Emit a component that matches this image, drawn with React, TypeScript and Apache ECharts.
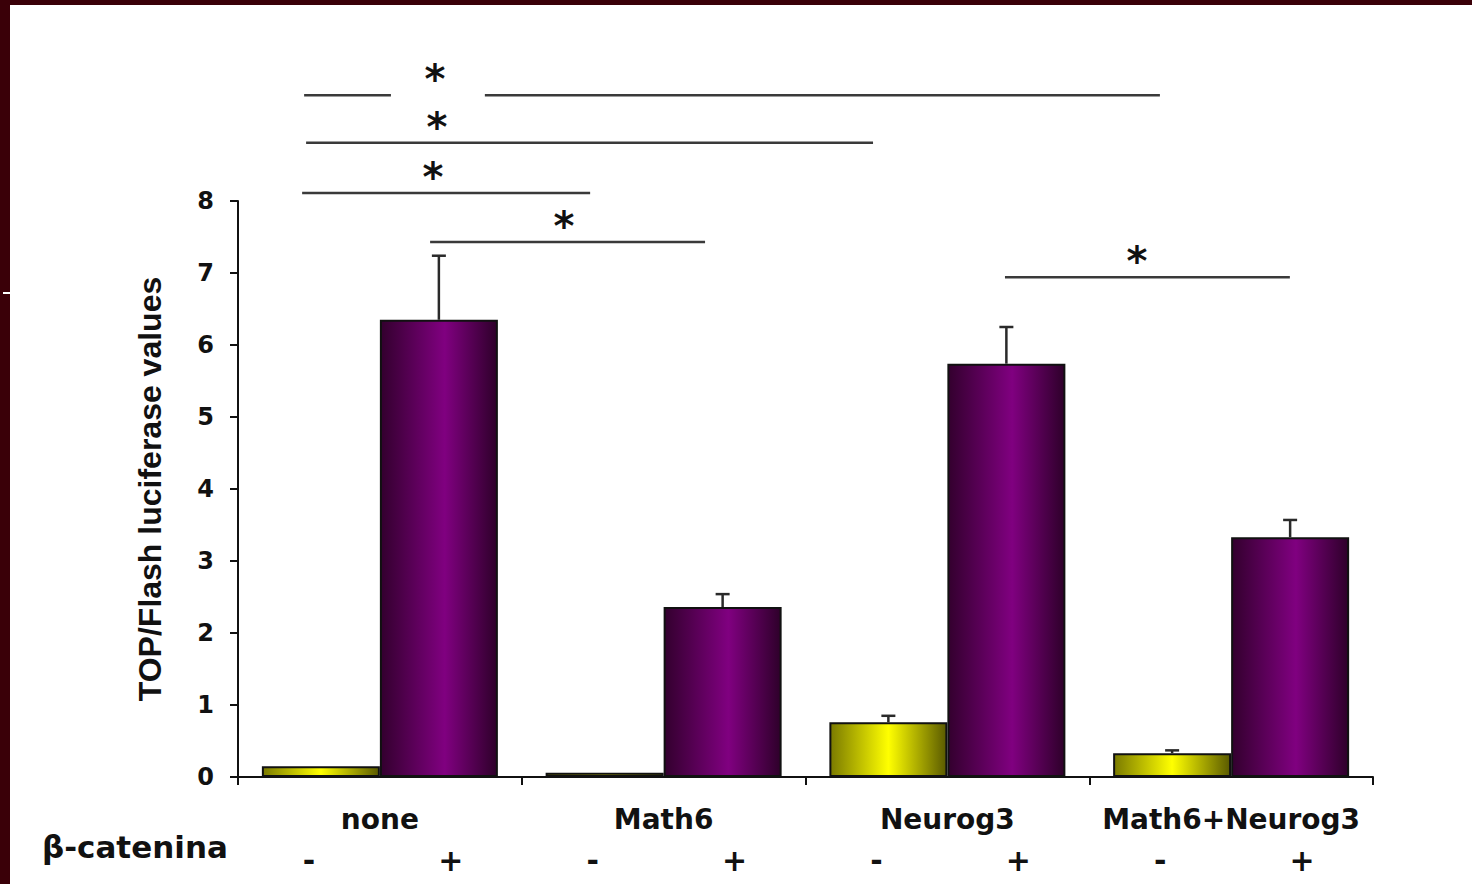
import React, { useEffect, useRef } from "react";
import * as echarts from "echarts";

// ---- data ----
const categories = ["none", "Math6", "Neurog3", "Math6+Neurog3"];
const betaLabels = ["-", "+", "-", "+", "-", "+", "-", "+"];
const withoutBeta = [0.15, 0.06, 0.76, 0.33];
const withoutBetaErr = [0, 0, 0.09, 0.04];
const withBeta = [6.35, 2.36, 5.74, 3.33];
const withBetaErr = [0.89, 0.18, 0.51, 0.24];
const yMin = 0;
const yMax = 8;
const yInterval = 1;

// significance brackets: level (y units), start/end/star (category units from left edge)
const sigLevels = [9.47, 8.81, 8.11, 7.43, 6.94];
const sigStart = [0.233, 0.24, 0.226, 0.677, 2.703];
const sigEnd = [3.249, 2.238, 1.241, 1.646, 3.707];
const sigStar = [0.694, 0.701, 0.687, 1.149, 3.168];
const sigGapStart = [0.539, null, null, null, null];
const sigGapEnd = [0.87, null, null, null, null];

const GRID = { left: 238, right: 99, top: 201, bottom: 107 };
const W = 1472;
const H = 884;
const BAR_W = 118;
const FONT = "'DejaVu Sans', Verdana, sans-serif";

export default function App() {
  const ref = useRef<HTMLDivElement>(null);

  useEffect(() => {
    document.body.style.margin = "0";
    const chart = echarts.init(ref.current!, null, { renderer: "svg" });

    const purple = new echarts.graphic.LinearGradient(0, 0, 1, 0, [
      { offset: 0, color: "#33002e" },
      { offset: 0.55, color: "#800080" },
      { offset: 1, color: "#2e002a" },
    ]);
    const yellow = new echarts.graphic.LinearGradient(0, 0, 1, 0, [
      { offset: 0, color: "#7a7a00" },
      { offset: 0.5, color: "#ffff00" },
      { offset: 1, color: "#5a5a00" },
    ]);

    const errRender = (side: number) => (params: any, api: any) => {
      const err = api.value(2);
      if (!err || err <= 0) return null;
      const idx = api.value(0);
      const val = api.value(1);
      const p0 = api.coord([idx, val]);
      const p1 = api.coord([idx, val + err]);
      const x = p0[0] + (side * BAR_W) / 2;
      const style = { stroke: "#2a2a2a", lineWidth: 2.5 };
      return {
        type: "group",
        children: [
          { type: "line", shape: { x1: x, y1: p0[1], x2: x, y2: p1[1] }, style },
          { type: "line", shape: { x1: x - 7, y1: p1[1], x2: x + 7, y2: p1[1] }, style },
        ],
      };
    };

    chart.setOption({
      animation: false,
      backgroundColor: "#ffffff",
      grid: GRID,
      xAxis: [
        {
          type: "category",
          data: categories,
          axisLine: { lineStyle: { color: "#111", width: 2 } },
          axisTick: { show: true, interval: 0, length: 8, lineStyle: { color: "#111", width: 2 } },
          axisLabel: {
            interval: 0,
            color: "#111",
            fontFamily: FONT,
            fontWeight: "bold",
            fontSize: 28,
            margin: 28,
          },
        },
        {
          type: "category",
          data: betaLabels,
          position: "bottom",
          axisLine: { show: false },
          axisTick: { show: false },
          axisLabel: {
            interval: 0,
            color: "#111",
            fontFamily: FONT,
            fontWeight: "bold",
            fontSize: 30,
            margin: 68,
          },
        },
      ],
      yAxis: {
        type: "value",
        min: yMin,
        max: yMax,
        interval: yInterval,
        splitLine: { show: false },
        axisLine: { show: true, lineStyle: { color: "#111", width: 2 } },
        axisTick: { show: true, length: 8, lineStyle: { color: "#111", width: 2 } },
        axisLabel: {
          color: "#111",
          fontFamily: FONT,
          fontWeight: "bold",
          fontSize: 24,
          margin: 24,
        },
        name: "TOP/Flash luciferase values",
        nameLocation: "middle",
        nameRotate: 90,
        nameGap: 72,
        nameTextStyle: {
          color: "#111",
          fontFamily: "'Liberation Sans', Arial, sans-serif",
          fontWeight: "bold",
          fontSize: 32,
        },
      },
      series: [
        {
          type: "bar",
          name: "-",
          data: withoutBeta,
          barWidth: BAR_W,
          barGap: "0%",
          itemStyle: { color: yellow, borderColor: "#111", borderWidth: 2 },
        },
        {
          type: "bar",
          name: "+",
          data: withBeta,
          barWidth: BAR_W,
          barGap: "0%",
          itemStyle: { color: purple, borderColor: "#111", borderWidth: 2 },
        },
        {
          type: "custom",
          renderItem: errRender(-1),
          data: withoutBeta.map((v, i) => [i, v, withoutBetaErr[i]]),
          encode: { x: 0, y: 1 },
          z: 5,
        },
        {
          type: "custom",
          renderItem: errRender(1),
          data: withBeta.map((v, i) => [i, v, withBetaErr[i]]),
          encode: { x: 0, y: 1 },
          z: 5,
        },
      ],
    });

    const plotW = W - GRID.left - GRID.right;
    const catW = plotW / categories.length;
    const xPx = (u: number) => GRID.left + u * catW;
    const yPx = (v: number) => chart.convertToPixel({ yAxisIndex: 0 }, v) as number;

    const lineStyle = { stroke: "#3a3a3a", lineWidth: 2.5 };
    const graphics: any[] = [
      { type: "rect", shape: { x: 0, y: 0, width: W, height: 5 }, style: { fill: "#3a0008" }, silent: true },
      { type: "rect", shape: { x: 0, y: 0, width: 10, height: H }, style: { fill: "#3a0008" }, silent: true },
      { type: "rect", shape: { x: 3, y: 292, width: 8, height: 2 }, style: { fill: "#ffffff" }, silent: true },
      {
        type: "text",
        x: 42,
        y: 847,
        style: {
          text: "β-catenina",
          fill: "#111",
          font: `bold 31px ${FONT}`,
          textVerticalAlign: "middle",
        },
      },
    ];
    sigLevels.forEach((lv, i) => {
      const y = yPx(lv);
      const gs = sigGapStart[i];
      const ge = sigGapEnd[i];
      if (gs != null && ge != null) {
        graphics.push({ type: "line", shape: { x1: xPx(sigStart[i]), y1: y, x2: xPx(gs), y2: y }, style: lineStyle });
        graphics.push({ type: "line", shape: { x1: xPx(ge), y1: y, x2: xPx(sigEnd[i]), y2: y }, style: lineStyle });
      } else {
        graphics.push({ type: "line", shape: { x1: xPx(sigStart[i]), y1: y, x2: xPx(sigEnd[i]), y2: y }, style: lineStyle });
      }
      graphics.push({
        type: "text",
        x: xPx(sigStar[i]),
        y: y - 16,
        style: {
          text: "*",
          fill: "#111",
          font: `bold 40px ${FONT}`,
          textAlign: "center",
          textVerticalAlign: "middle",
        },
      });
    });
    chart.setOption({ graphic: graphics });

    return () => chart.dispose();
  }, []);

  return <div ref={ref} style={{ width: W, height: H }} />;
}
